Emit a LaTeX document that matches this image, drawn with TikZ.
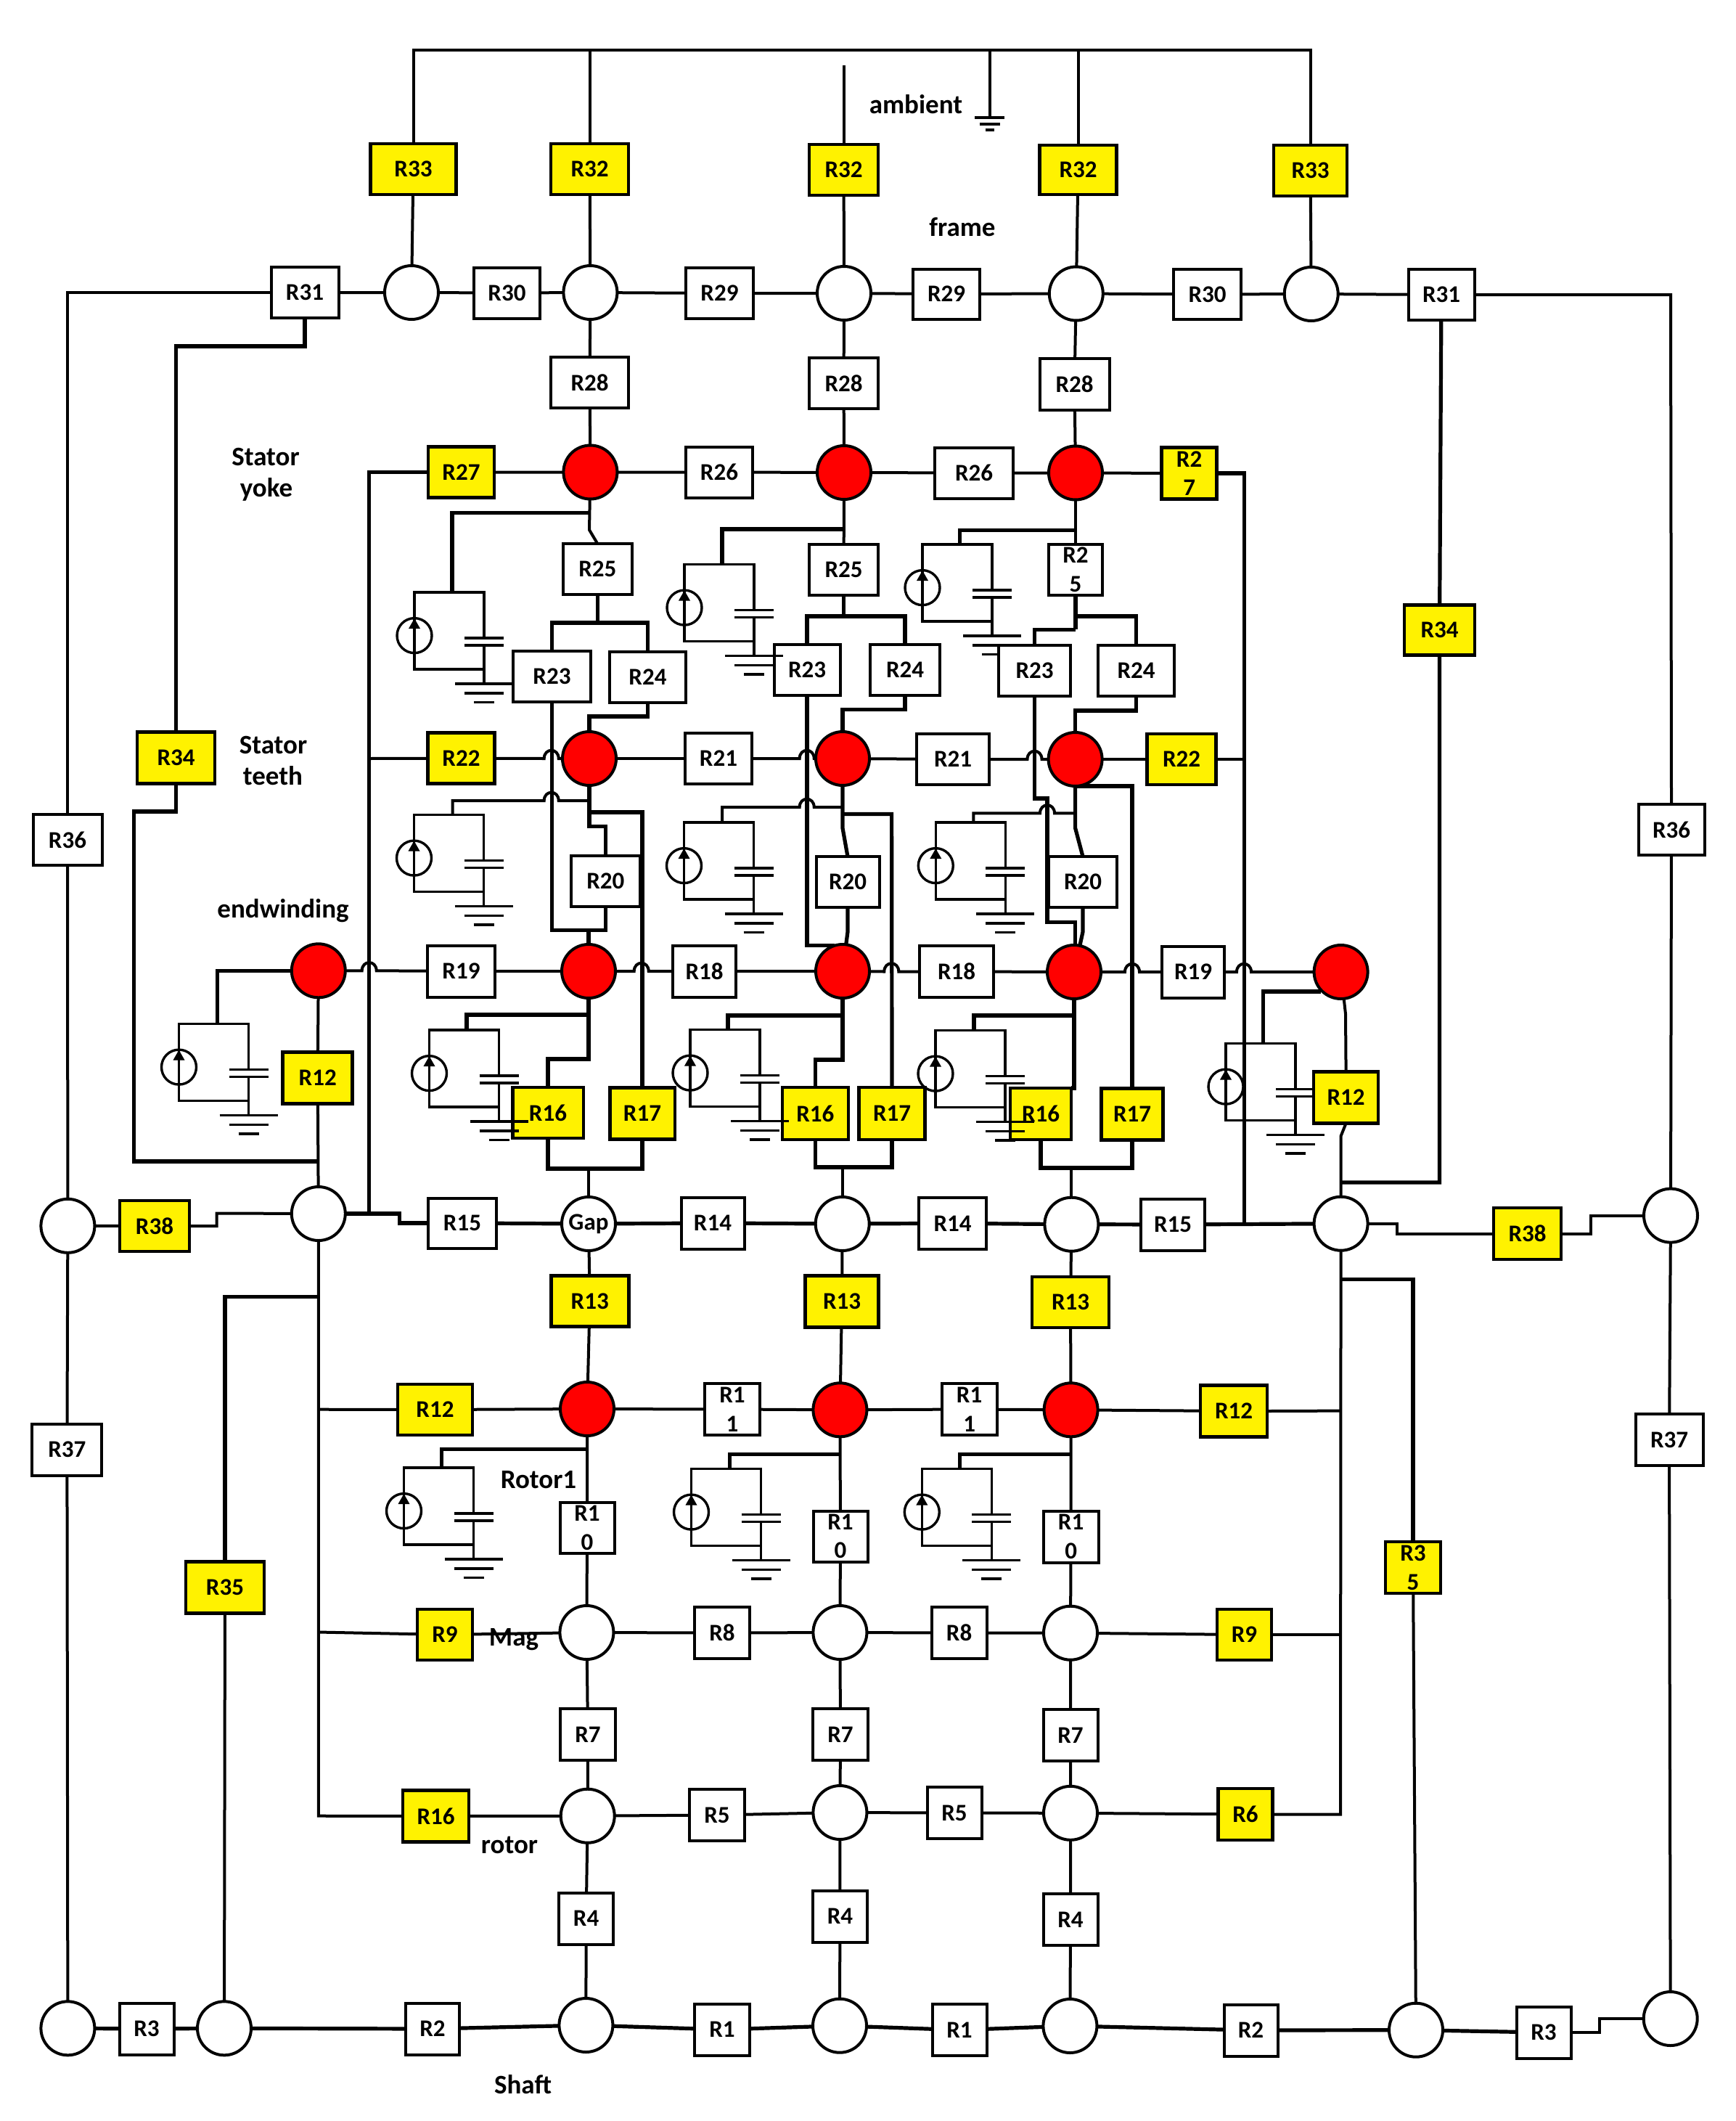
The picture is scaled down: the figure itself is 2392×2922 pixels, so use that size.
\documentclass[tikz,border=0pt]{standalone}
\usepackage{fontspec}
\setmainfont{Carlito}
\pgfdeclarelayer{wires}
\pgfsetlayers{wires,main}
\tikzset{
  wire/.style={draw=black,line width=2pt,line join=miter},
  wireb/.style={draw=black,line width=2.6pt,line join=miter},
  mod/.style={draw=black,line width=1.7pt},
  rbox/.style={draw=black,line width=2pt,fill=white,inner sep=0pt,outer sep=0pt,align=center,
    font=\fontsize{16.5}{19.8}\selectfont\bfseries},
  ybox/.style={rbox,fill=yellow,line width=2.3pt},
  onode/.style={circle,draw=black,line width=2pt,fill=white,inner sep=0pt,outer sep=0pt,minimum size=37pt,
    font=\fontsize{16.5}{19}\selectfont\bfseries},
  rnode/.style={onode,fill=red},
  lbl/.style={inner sep=0pt,font=\fontsize{18.5}{22}\selectfont\bfseries}
}
\newcommand\plainbox[6]{\node[rbox,minimum width=#4*0.5pt,minimum height=#5*0.5pt] (#1) at (#2,#3) {#6};}
\newcommand\yelbox[6]{\node[ybox,minimum width=#4*0.5pt,minimum height=#5*0.5pt] (#1) at (#2,#3) {#6};}
\newcommand\opennode[3]{\node[onode] (#1) at (#2,#3) {};}
\newcommand\rednode[3]{\node[rnode] (#1) at (#2,#3) {};}
\newcommand\hop[2]{-- (#1-10,#2) .. controls (#1-10,#2-15) and (#1+10,#2-15) .. (#1+10,#2) --}
% thermal cell: name, left x, top y, x of the tap on its top edge
\newcommand\thermal[4]{
  \coordinate (#1) at (#4,#3);
  \begin{scope}[shift={(#2,#3)}]
    \draw[mod] (96,63) -- (96,0) -- (0,0) -- (0,106) -- (96,106);
    \draw[mod] (0,59.6) circle[radius=24];
    \fill (0,36) -- (-8,50) -- (8,50) -- cycle;
    \draw[mod] (69,63) -- (123,63) (69,73) -- (123,73);
    \draw[mod] (96,73) -- (96,126);
    \draw[mod] (56,126) -- (136,126) (69,139) -- (123,139) (82,151.5) -- (110,151.5);
  \end{scope}
}
\begin{document}
\begin{tikzpicture}[x=0.5pt,y=-0.5pt]
\useasboundingbox (0,0) rectangle (2392,2922);
% ---------- top row
\yelbox{R33a}{569.5}{233}{118}{70}{R33}
\yelbox{R32a}{812.6}{233}{107}{70}{R32}
\yelbox{R32b}{1162.6}{234}{95}{70}{R32}
\yelbox{R32c}{1485.5}{234}{106}{68}{R32}
\yelbox{R33b}{1805.6}{235}{101}{70}{R33}
% ---------- frame row
\plainbox{R31a}{420}{403}{93}{70}{R31}
\opennode{f1}{567}{403}
\plainbox{R30a}{698.5}{403.5}{91}{70}{R30}
\opennode{f2}{813.4}{403}
\plainbox{R29a}{991.5}{404}{93}{70}{R29}
\opennode{f3}{1163}{404}
\plainbox{R29b}{1304}{405}{92}{69}{R29}
\opennode{f4}{1482.8}{404.5}
\plainbox{R30b}{1663.5}{405.5}{93}{69}{R30}
\opennode{f5}{1806.7}{405}
\plainbox{R31b}{1986}{406}{91}{70}{R31}
% ---------- R28
\plainbox{R28a}{812.6}{527}{107}{70}{R28}
\plainbox{R28b}{1162.6}{528}{95}{70}{R28}
\plainbox{R28c}{1480.5}{529}{96}{71}{R28}
% ---------- yoke row
\yelbox{R27a}{635.5}{650.5}{91}{70}{R27}
\rednode{y1}{813.4}{650.5}
\plainbox{R26a}{991}{650.5}{92}{70}{R26}
\rednode{y2}{1163}{651}
\plainbox{R26b}{1342}{651.5}{108}{70}{R26}
\rednode{y3}{1482}{651.5}
\yelbox{R27b}{1638.6}{652}{76}{71}{R2\\7}
% ---------- R25, R23, R24
\plainbox{R25a}{823.3}{784}{95}{70}{R25}
\plainbox{R25b}{1162.6}{785}{95}{70}{R25}
\plainbox{R25c}{1482}{785}{74.5}{70}{R2\\5}
\plainbox{R23a}{760.5}{932}{107}{70}{R23}
\plainbox{R24a}{892.5}{933}{105}{70}{R24}
\plainbox{R23b}{1112}{923}{91}{70}{R23}
\plainbox{R24b}{1247}{923}{96}{70}{R24}
\plainbox{R23c}{1425.6}{923.6}{99}{70}{R23}
\plainbox{R24c}{1565.6}{923.6}{105}{70}{R24}
% ---------- teeth row
\yelbox{R22a}{635.5}{1044.6}{92}{70}{R22}
\rednode{t1}{812}{1045}
\plainbox{R21a}{990}{1045}{92}{70}{R21}
\rednode{t2}{1161}{1045}
\plainbox{R21b}{1313}{1046}{100}{70}{R21}
\rednode{t3}{1481.6}{1046}
\yelbox{R22b}{1628}{1046}{95}{70}{R22}
% ---------- R20
\plainbox{R20a}{834.4}{1214}{95.4}{70}{R20}
\plainbox{R20b}{1168}{1215}{87}{70}{R20}
\plainbox{R20c}{1492}{1215}{93.4}{70}{R20}
% ---------- endwinding row
\rednode{e0}{438.8}{1337.3}
\plainbox{R19a}{635.5}{1338}{93}{71}{R19}
\rednode{e1}{811}{1338}
\plainbox{R18a}{970.6}{1338}{87}{71}{R18}
\rednode{e2}{1161}{1338}
\plainbox{R18b}{1318}{1338.5}{102}{71}{R18}
\rednode{e3}{1480}{1339}
\plainbox{R19b}{1644}{1339}{86}{71}{R19}
\rednode{e4}{1847.6}{1339}
% ---------- R12 / R16 / R17
\yelbox{R12a}{437.7}{1485}{96}{71}{R12}
\yelbox{R16a}{755}{1533}{97.6}{70}{R16}
\yelbox{R17a}{885}{1534}{89.6}{71}{R17}
\yelbox{R16b}{1123.4}{1534}{91}{72}{R16}
\yelbox{R17b}{1229}{1534}{90.5}{72}{R17}
\yelbox{R16c}{1434}{1534.5}{84}{71}{R16}
\yelbox{R17c}{1560}{1535}{85.5}{71}{R17}
\yelbox{R12b}{1854.6}{1512}{89}{71}{R12}
% ---------- side boxes
\plainbox{R36a}{93}{1157}{95}{70}{R36}
\plainbox{R36b}{2303}{1143}{91}{70}{R36}
\yelbox{R34a}{242.6}{1044}{107}{71}{R34}
\yelbox{R34b}{1983.5}{868}{97}{69}{R34}
% ---------- gap row
\opennode{g0}{93.4}{1688.8}
\yelbox{R38a}{213}{1689}{96}{70}{R38}
\opennode{g1}{438.8}{1672}
\plainbox{R15a}{637}{1685}{94.7}{69}{R15}
\node[onode] (g2) at (811,1686) {Gap};
\plainbox{R14a}{982}{1685}{87}{71}{R14}
\opennode{g3}{1160.7}{1686}
\plainbox{R14b}{1312.5}{1685.3}{93}{71}{R14}
\opennode{g4}{1476.4}{1686.7}
\plainbox{R15b}{1616}{1687}{88}{71}{R15}
\opennode{g5}{1847.6}{1685.7}
\yelbox{R38b}{2104.5}{1699.5}{93}{71}{R38}
\opennode{g6}{2302}{1674.6}
% ---------- R13
\yelbox{R13a}{812.7}{1792.5}{107}{70}{R13}
\yelbox{R13b}{1160}{1793}{101.5}{71}{R13}
\yelbox{R13c}{1475}{1794}{106}{70}{R13}
% ---------- rotor1 row
\yelbox{R12c}{599.5}{1942}{103}{70}{R12}
\rednode{r1}{809}{1941}
\plainbox{R11a}{1009}{1941.5}{76}{71}{R1\\1}
\rednode{r2}{1157.4}{1942.3}
\plainbox{R11b}{1335.6}{1941.5}{76}{71}{R1\\1}
\rednode{r3}{1475.6}{1942.3}
\yelbox{R12d}{1700}{1944}{92}{71}{R12}
% ---------- R10
\plainbox{R10a}{809}{2105}{75}{70}{R1\\0}
\plainbox{R10b}{1158}{2116.5}{75}{70}{R1\\0}
\plainbox{R10c}{1475.6}{2117}{76}{71}{R1\\0}
% ---------- side boxes lower
\plainbox{R37a}{92.4}{1997}{96}{71}{R37}
\plainbox{R37b}{2300}{1983.7}{93}{71}{R37}
\yelbox{R35a}{310}{2187}{108}{71}{R35}
\yelbox{R35b}{1947}{2159.5}{76}{71}{R3\\5}
% ---------- mag row
\yelbox{R9a}{613}{2252}{76}{70}{R9}
\opennode{m1}{808.4}{2249}
\plainbox{R8a}{995}{2249.5}{76}{71}{R8}
\opennode{m2}{1157.4}{2249}
\plainbox{R8b}{1321.6}{2249.5}{76}{71}{R8}
\opennode{m3}{1475}{2249.7}
\yelbox{R9b}{1714.5}{2252}{75}{70}{R9}
% ---------- R7
\plainbox{R7a}{810}{2389.5}{76}{71}{R7}
\plainbox{R7b}{1158}{2389.5}{76}{71}{R7}
\plainbox{R7c}{1475}{2390.5}{75}{71}{R7}
% ---------- rotor row
\yelbox{R16d}{600.6}{2502}{91}{71}{R16}
\opennode{o1}{809.7}{2501.7}
\plainbox{R5a}{988}{2500.5}{76}{71}{R5}
\opennode{o2}{1157.4}{2497}
\plainbox{R5b}{1315}{2497.5}{75}{71}{R5}
\opennode{o3}{1475}{2497.8}
\yelbox{R6a}{1716}{2499.5}{75}{71}{R6}
% ---------- R4
\plainbox{R4a}{807.6}{2643}{75}{71}{R4}
\plainbox{R4b}{1157.4}{2640}{75}{71}{R4}
\plainbox{R4c}{1475}{2644.5}{75}{71}{R4}
% ---------- shaft row
\opennode{s0}{93.4}{2794.3}
\plainbox{R3a}{202}{2795}{75}{71}{R3}
\opennode{s1}{309}{2794.3}
\plainbox{R2a}{596}{2795}{73.5}{71}{R2}
\opennode{s2}{807.4}{2790}
\plainbox{R1a}{995}{2796}{76}{71}{R1}
\opennode{s3}{1157}{2790.7}
\plainbox{R1b}{1322}{2796.6}{75}{71}{R1}
\opennode{s4}{1474.4}{2791}
\plainbox{R2b}{1723.5}{2797}{74}{71}{R2}
\opennode{s5}{1951}{2796.7}
\plainbox{R3b}{2127}{2800}{75}{71}{R3}
\opennode{s6}{2301.7}{2781}
% ---------- thermal cells
\thermal{c1}{571}{816}{623}
\thermal{c2}{943}{777.5}{995}
\thermal{c4}{570.5}{1122.5}{623.5}
\thermal{c5}{942.5}{1133}{995}
\thermal{c6}{1289.3}{1133}{1341.3}
\thermal{c7}{246.5}{1410.5}{299.5}
\thermal{c8}{591.5}{1419}{643}
\thermal{c9}{951}{1418.5}{1003}
\thermal{c10}{1289}{1419.5}{1342}
\thermal{c11}{1689}{1437.5}{1740.4}
\thermal{c12}{556.5}{2022}{608.8}
\thermal{c13}{952.5}{2023.5}{1005.5}
\thermal{c14}{1270.3}{2023.5}{1322.6}
% ---------- ambient ground
\coordinate (gnd) at (1363.5,162);
\draw[mod] (1343,162) -- (1384,162) (1349.5,171) -- (1377.5,171) (1357.5,179) -- (1369.5,179);
\coordinate (free) at (1162.6,90);
% ---------- labels
\node[lbl] (lamb) at (1262,144) {ambient};
\node[lbl] (lfra) at (1326,313) {frame};
\node[lbl] (lsy1) at (366,629.5) {Stator};
\node[lbl] (lsy2) at (367,674.7) {yoke};
\node[lbl] (lst1) at (376.5,1026) {Stator};
\node[lbl] (lst2) at (376,1069) {teeth};
\node[lbl] (lend) at (390,1254.6) {endwinding};
\node[lbl] (lrot1) at (742,2038.6) {Rotor1};
\node[lbl] (lmag) at (708,2259) {Mag};
\node[lbl] (lrot) at (702,2541.8) {rotor};
\node[lbl] (lsha) at (720.5,2871.7) {Shaft};
% ---------- connectors
\begin{pgfonlayer}{wires}
\thermal{c3}{1271}{750}{1322.4}
% top bus
\draw[wire] (R33a) -- (569.5,69) -- (1805.6,69) -- (R33b);
\draw[wire] (R32a) -- (812.6,69);
\draw[wire] (R32c) -- (1485.5,69);
\draw[wire] (R32b) -- (free);
\draw[wire] (1363.5,69) -- (gnd);
% frame
\draw[wire] (R33a) -- (f1);
\draw[wire] (R32a) -- (f2);
\draw[wire] (R32b) -- (f3);
\draw[wire] (R32c) -- (f4);
\draw[wire] (R33b) -- (f5);
\draw[wire] (R31a) -- (f1) -- (R30a) -- (f2) -- (R29a) -- (f3) -- (R29b) -- (f4) -- (R30b) -- (f5) -- (R31b);
\draw[wire] (f2) -- (R28a) -- (y1);
\draw[wire] (f3) -- (R28b) -- (y2);
\draw[wire] (f4) -- (R28c) -- (y3);
% outer left and right
\draw[wire] (R31a.west) -- (93,403) -- (R36a.north);
\draw[wire] (R36a) -- (g0) -- (R37a) -- (s0);
\draw[wire] (R31b.east) -- (2302,406) -- (R36b.north);
\draw[wire] (R36b) -- (g6) -- (R37b) -- (s6);
\draw[wireb] (R31a.south) -- (420,477) -- (242.6,477) -- (R34a.north);
\draw[wireb] (R34a.south) -- (242.6,1118) -- (184.6,1118) -- (184.6,1600) -- (438.8,1600);
\draw[wireb] (R31b) -- (R34b);
\draw[wireb] (R34b.south) -- (1983.4,1629) -- (1847.6,1629);
% yoke
\draw[wire] (R27a) -- (y1) -- (R26a) -- (y2) -- (R26b) -- (y3) -- (R27b);
\draw[wireb] (R27a.west) -- (508.7,650.5) -- (508.7,1672);
\draw[wireb] (R27b.east) -- (1714.7,652) -- (1714.7,1685.7);
\draw[wire] (y1) -- (812,730) -- (R25a.north);
\draw[wire] (y2) -- (R25b);
\draw[wire] (y3) -- (R25c);
\draw[wireb] (812,706.6) -- (623,706.6) -- (c1);
\draw[wireb] (1162.6,729) -- (995,729) -- (c2);
\draw[wireb] (1482,730.6) -- (1322.4,730.6) -- (c3);
% R25 to R23/R24
\draw[wireb] (R25a) -- (823.3,858);
\draw[wireb] (R23a.north) -- (760.5,858) -- (892.5,858) -- (R24a.north);
\draw[wireb] (R25b) -- (1162.6,849);
\draw[wireb] (R23b.north) -- (1112,849) -- (1247,849) -- (R24b.north);
\draw[wireb] (R25c) -- (1482,867.4);
\draw[wireb] (1482,867.4) -- (1425.6,867.4) -- (R23c.north);
\draw[wireb] (1482,849) -- (1565.6,849) -- (R24c.north);
\draw[wireb] (R24a.south) -- (892.5,987) -- (812,987) -- (t1);
\draw[wireb] (R24b.south) -- (1247,977.7) -- (1161,977.7) -- (t2);
\draw[wireb] (R24c.south) -- (1565.6,979) -- (1481.6,979) -- (t3);
% teeth
\draw[wire] (508.7,1045) -- (R22a);
\draw[wire] (R22a) \hop{759.7}{1045} (t1);
\draw[wire] (t1) -- (R21a);
\draw[wire] (R21a) \hop{1111.7}{1045} (t2);
\draw[wire] (t2) -- (R21b);
\draw[wire] (R21b) \hop{1425.5}{1046} (t3);
\draw[wire] (t3) -- (R22b);
\draw[wire] (R22b.east) -- (1714.7,1046);
\draw[wire] (c4) -- (623.5,1103) \hop{759.7}{1103} (812,1103);
\draw[wire] (c5) -- (995,1112) \hop{1111.7}{1112} (1161,1112);
\draw[wire] (c6) -- (1341.3,1120.4) \hop{1443}{1120.4} (1481.6,1120.4);
% R20, R17 tops
\draw[wireb] (t1) -- (812,1138.8) -- (834.4,1138.8) -- (R20a.north);
\draw[wireb] (812,1119) -- (885,1119) -- (R17a.north);
\draw[wireb] (t2) -- (1161,1140.8) -- (R20b.north);
\draw[wireb] (1161,1121.4) -- (1228.6,1121.4) -- (R17b.north);
\draw[wireb] (t3) -- (1481.6,1140.8) -- (R20c.north);
\draw[wireb] (1481.6,1083) -- (1560,1083) -- (R17c.north);
% R20, R23 bottoms
\draw[wireb] (R20a.south) -- (834.4,1281.6) -- (760.5,1281.6) -- (R23a.south);
\draw[wireb] (811,1281.6) -- (e1);
\draw[wireb] (R20b.south) -- (1168,1283.7) -- (e2);
\draw[wireb] (R23b.south) -- (1112,1302.6) -- (1150,1302.6);
\draw[wireb] (R20c.south) -- (1492,1283.7) -- (e3);
\draw[wireb] (R23c.south) -- (1425.6,1100) -- (1443,1100) -- (1443,1270.4) -- (1481.6,1270.4) -- (1481.6,1303);
% endwinding
\draw[wireb] (c7) -- (299.5,1337.3) -- (e0);
\draw[wire] (e0) \hop{508.7}{1337.3} (R19a);
\draw[wire] (R19a) -- (e1);
\draw[wire] (e1) \hop{883.7}{1338} (R18a);
\draw[wire] (R18a) -- (e2);
\draw[wire] (e2) \hop{1228.3}{1338.5} (R18b);
\draw[wire] (R18b) -- (e3);
\draw[wire] (e3) \hop{1560}{1339} (R19b);
\draw[wire] (R19b) \hop{1714}{1339} (e4);
\draw[wire] (e0) -- (R12a) -- (g1);
\draw[wire] (e4) -- (1854,1396.7) -- (R12b.north);
\draw[wire] (R12b.south) -- (1847.6,1565) -- (g5);
\draw[wireb] (1820,1366) -- (1740.4,1366) -- (c11);
% R16, R17
\draw[wireb] (e1) -- (811,1459) -- (755,1459) -- (R16a.north);
\draw[wireb] (811,1398) -- (643,1398) -- (c8);
\draw[wireb] (R16a.south) -- (755,1610) -- (885,1610) -- (R17a.south);
\draw[wire] (811,1610) -- (g2);
\draw[wireb] (e2) -- (1161,1460) -- (1123.4,1460) -- (R16b.north);
\draw[wireb] (1161,1399) -- (1003,1399) -- (c9);
\draw[wireb] (R16b.south) -- (1123.4,1608) -- (1229,1608) -- (R17b.south);
\draw[wire] (1160.7,1608) -- (g3);
\draw[wireb] (e3) -- (1480,1499) -- (R16c.north east);
\draw[wireb] (1480,1399) -- (1342,1399) -- (c10);
\draw[wireb] (R16c.south) -- (1434,1609) -- (1560,1609) -- (R17c.south);
\draw[wire] (1476.4,1609) -- (g4);
% gap row
\draw[wire] (g0) -- (R38a);
\draw[wire] (R38a.east) -- (298.5,1689) -- (298.5,1671.5) -- (g1);
\draw[wireb] (g1) -- (550.5,1672) -- (550.5,1685) -- (R15a);
\draw[wireb] (R15a) -- (g2) -- (R14a) -- (g3) -- (R14b) -- (g4) -- (R15b) -- (g5);
\draw[wire] (g5) -- (1925,1685.7) -- (1925,1699.5) -- (R38b);
\draw[wire] (R38b.east) -- (2192,1699.5) -- (2192,1674.6) -- (g6);
\draw[wire] (g2) -- (R13a) -- (r1);
\draw[wire] (g3) -- (R13b) -- (r2);
\draw[wire] (g4) -- (R13c) -- (r3);
% spines
\draw[wire] (g1) -- (438.8,2501.7) -- (R16d);
\draw[wireb] (438.8,1786.7) -- (310,1786.7) -- (R35a.north);
\draw[wire] (R35a) -- (s1);
\draw[wire] (438.8,1941.7) -- (R12c);
\draw[wire] (438.8,2248.5) -- (R9a);
\draw[wire] (g5) -- (1847,2499.7) -- (R6a);
\draw[wireb] (1847,1762.5) -- (1947,1762.5) -- (R35b.north);
\draw[wire] (R35b) -- (s5);
\draw[wire] (R12d.east) -- (1847,1943.6);
\draw[wire] (R9b.east) -- (1847,2252);
% rotor rows
\draw[wire] (R12c) -- (r1) -- (R11a) -- (r2) -- (R11b) -- (r3) -- (R12d);
\draw[wire] (R9a) -- (m1) -- (R8a) -- (m2) -- (R8b) -- (m3) -- (R9b);
\draw[wire] (R16d) -- (o1) -- (R5a) -- (o2) -- (R5b) -- (o3) -- (R6a);
\draw[wire] (r1) -- (R10a) -- (m1) -- (R7a) -- (o1) -- (R4a) -- (s2);
\draw[wire] (r2) -- (R10b) -- (m2) -- (R7b) -- (o2) -- (R4b) -- (s3);
\draw[wire] (r3) -- (R10c) -- (m3) -- (R7c) -- (o3) -- (R4c) -- (s4);
\draw[wireb] (807.8,1996.6) -- (608.8,1996.6) -- (c12);
\draw[wireb] (1157.9,2003.6) -- (1005.5,2003.6) -- (c13);
\draw[wireb] (1475.6,2003.6) -- (1322.6,2003.6) -- (c14);
% shaft
\draw[wireb] (s0) -- (R3a) -- (s1) -- (R2a) -- (s2) -- (R1a) -- (s3) -- (R1b) -- (s4) -- (R2b) -- (s5) -- (R3b);
\draw[wire] (R3b.east) -- (2203.7,2800) -- (2203.7,2781) -- (s6);
\end{pgfonlayer}
\end{tikzpicture}
\end{document}
